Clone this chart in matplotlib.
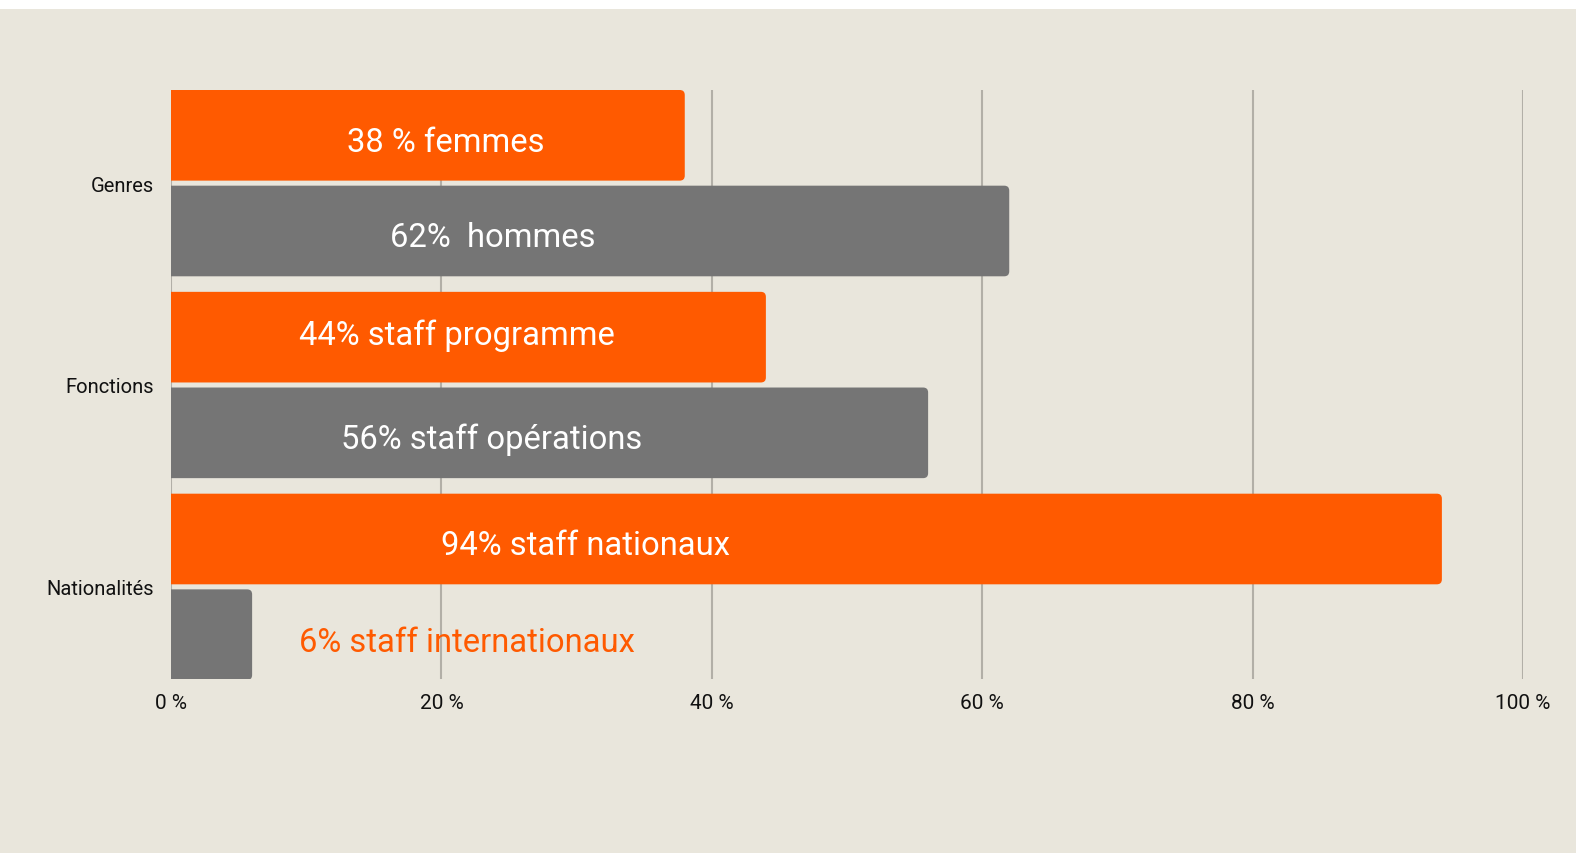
import matplotlib
matplotlib.use("Agg")
import matplotlib.pyplot as plt
from matplotlib.patches import FancyBboxPatch, Rectangle

# ---- data ----
categories = ["Genres", "Fonctions", "Nationalités"]
first_values = [38, 44, 94]      # orange bars
second_values = [62, 56, 6]      # grey bars
first_labels = ["38 % femmes", "44% staff programme", "94% staff nationaux"]
second_labels = ["62%  hommes", "56% staff opérations", "6% staff internationaux"]
xticks = [0, 20, 40, 60, 80, 100]
xtick_labels = ["0 %", "20 %", "40 %", "60 %", "80 %", "100 %"]

# ---- style ----
ORANGE = "#FF5A00"
GREY = "#757575"
BG = "#E9E6DC"
GRID = "#B2AFA7"
plt.rcParams['font.family'] = ['Roboto', 'DejaVu Sans']

W, H = 1576, 854
fig = plt.figure(figsize=(W / 100, H / 100), dpi=100, facecolor=BG)
fig.patches.append(Rectangle((0, 1 - 10 / H), 1, 10 / H, transform=fig.transFigure,
                             facecolor="white", edgecolor="none", zorder=0))
ax = fig.add_axes([171 / W, 1 - 680 / H, (1523 - 171) / W, (680 - 91) / H])
ax.set_facecolor(BG)

off = 0.237
h = 0.449
ypos = list(range(len(categories)))
b1 = ax.barh([y - off for y in ypos], first_values, height=h, color=ORANGE, zorder=2)
b2 = ax.barh([y + off for y in ypos], second_values, height=h, color=GREY, zorder=2)

ax.set_xlim(0, 100)
ax.set_ylim(2.4566, -0.4615)

# rounded right corners
fig.canvas.draw()
px_x = ax.transData.transform((1, 0))[0] - ax.transData.transform((0, 0))[0]
px_y = abs(ax.transData.transform((0, 1))[1] - ax.transData.transform((0, 0))[1])
r_px = 5.0
for bars in (b1, b2):
    for rect in bars:
        x0, y0 = rect.get_x(), rect.get_y()
        w, hh = rect.get_width(), rect.get_height()
        rect.set_visible(False)
        p = FancyBboxPatch((x0 - 5, y0), w + 5, hh,
                           boxstyle=f"round,pad=0,rounding_size={r_px / px_x}",
                           mutation_aspect=(px_x / px_y),
                           facecolor=rect.get_facecolor(), edgecolor="none", zorder=2)
        ax.add_patch(p)

# bar labels (x start, baseline offset from bar centre)
first_pos = [(13.0, 0.077), (9.5, 0.033), (20.0, 0.073)]
second_pos = [(16.2, 0.076), (12.6, 0.075), (9.5, 0.079)]
for i, y in enumerate(ypos):
    x, dy = first_pos[i]
    ax.text(x, y - off + dy, first_labels[i], color="white", fontsize=23.6,
            ha="left", va="baseline", zorder=3)
    x, dy = second_pos[i]
    col = ORANGE if second_values[i] < 10 else "white"
    ax.text(x, y + off + dy, second_labels[i], color=col, fontsize=23.6,
            ha="left", va="baseline", zorder=3)

ax.set_xticks(xticks)
ax.set_xticklabels(xtick_labels, fontsize=15, color="#111111")
ax.set_yticks(ypos)
ax.set_yticklabels(categories, fontsize=14.5, color="#111111")
ax.tick_params(axis="x", length=0, pad=10)
ax.tick_params(axis="y", length=0, pad=12)
ax.grid(axis="x", color=GRID, linewidth=1.5, zorder=1)
ax.set_axisbelow(True)
for s in ax.spines.values():
    s.set_visible(False)

fig.savefig("out.png", dpi=100, facecolor=BG)
